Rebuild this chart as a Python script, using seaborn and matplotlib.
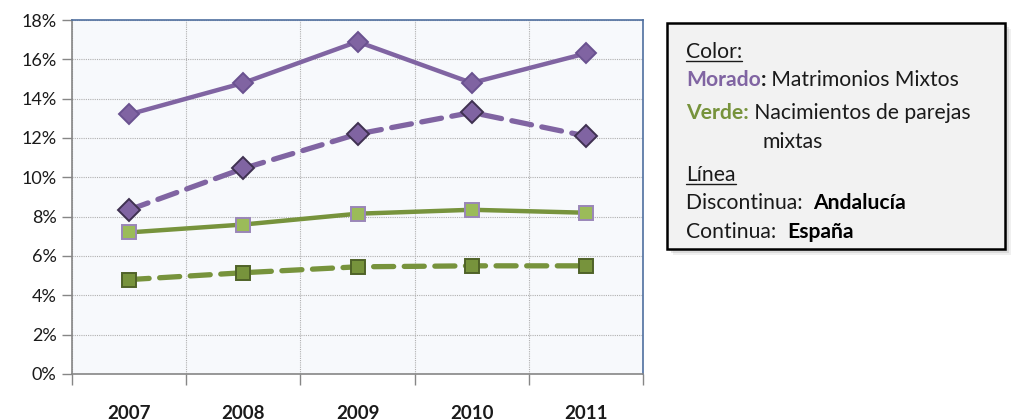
import numpy as np
import pandas as pd
import matplotlib
matplotlib.use("Agg")
import matplotlib.pyplot as plt
import seaborn as sns
from matplotlib.ticker import PercentFormatter, FixedLocator
from matplotlib.patches import Rectangle
from matplotlib.lines import Line2D

years = ["2007", "2008", "2009", "2010", "2011"]
matrimonios_espana = [13.2, 14.8, 16.9, 14.8, 16.3]
matrimonios_andalucia = [8.35, 10.45, 12.2, 13.3, 12.1]
nacimientos_espana = [7.2, 7.6, 8.15, 8.35, 8.2]
nacimientos_andalucia = [4.8, 5.15, 5.45, 5.5, 5.5]
y_ticks = [0, 2, 4, 6, 8, 10, 12, 14, 16, 18]

PURPLE = "#8064A2"
GREEN = "#77933C"
LGREEN = "#9BBB59"
DGREEN_EDGE = "#4F6228"
DPURPLE_EDGE = "#3F3151"

sns.set_theme(style="white")
plt.rcParams["font.family"] = ["Lato", "DejaVu Sans"]

fig = plt.figure(figsize=(10.15, 4.2), dpi=100)
fig.patch.set_facecolor("white")
ax = fig.add_axes([72/1015, 1-374/420, (643-72)/1015, (374-20)/420])
ax.set_facecolor("#F7F9FC")

series = [
    ("Matrimonios España", matrimonios_espana, PURPLE, "-", "D", PURPLE, "#6A5290", 3.2, 10),
    ("Matrimonios Andalucía", matrimonios_andalucia, PURPLE, "--", "D", PURPLE, DPURPLE_EDGE, 3.8, 11),
    ("Nacimientos España", nacimientos_espana, GREEN, "-", "s", LGREEN, "#9A86B8", 3.2, 9.5),
    ("Nacimientos Andalucía", nacimientos_andalucia, GREEN, "--", "s", GREEN, DGREEN_EDGE, 3.8, 10),
]

for name, vals, col, ls, mk, mfc, mec, lw, ms in series:
    df = pd.DataFrame({"year": years, "value": vals})
    sns.lineplot(data=df, x="year", y="value", ax=ax, sort=False, color=col,
                 linewidth=lw, marker=mk, markersize=ms,
                 markerfacecolor=mfc, markeredgecolor=mec, markeredgewidth=1.4)
    line = ax.get_lines()[-1]
    line.set_linestyle(ls)
    if ls == "--":
        line.set_dashes((3.8, 2.0))
        line.set_dash_capstyle("round")

ax.set_xlim(-0.5, 4.5)
ax.set_ylim(0, 18)
ax.yaxis.set_major_locator(FixedLocator(y_ticks))
ax.yaxis.set_major_formatter(PercentFormatter(decimals=0))
ax.xaxis.set_major_locator(FixedLocator([-0.5, 0.5, 1.5, 2.5, 3.5, 4.5]))
ax.xaxis.set_major_formatter(plt.NullFormatter())
ax.xaxis.set_minor_locator(FixedLocator([0, 1, 2, 3, 4]))
ax.set_xticklabels(years, minor=True)
ax.tick_params(axis="x", which="major", length=8, width=1, color="#868686", direction="out", bottom=True)
ax.tick_params(axis="x", which="minor", length=0, pad=22, labelsize=13.5, labelcolor="#1a1a1a")
for t in ax.get_xticklabels(minor=True):
    t.set_fontweight("bold")
ax.tick_params(axis="y", which="major", length=7, width=1, color="#868686", direction="out",
               left=True, labelsize=13, labelcolor="#1a1a1a", pad=4)
ax.set_xlabel("")
ax.set_ylabel("")
ax.grid(True, which="major", axis="both", color="#b0b0b0", linestyle=(0, (1, 1)), linewidth=0.8)
ax.set_axisbelow(True)
for s in ["left", "bottom"]:
    ax.spines[s].set_color("#868686")
    ax.spines[s].set_linewidth(1.2)
for s in ["top", "right"]:
    ax.spines[s].set_color("#4F6FA0")
    ax.spines[s].set_linewidth(1.2)

# ---- explanatory text box ----
W, H = 1015, 420
bx0, by0, bx1, by1 = 667, 23, 1005, 249
for k, a in [(6, 0.15), (4, 0.25), (2, 0.3)]:
    fig.add_artist(Rectangle((bx0/W + k/W, 1 - by1/H - k/H), (bx1-bx0)/W, (by1-by0)/H,
                             transform=fig.transFigure, facecolor="#a0a0a0", edgecolor="none",
                             alpha=a, zorder=1))
box = Rectangle((bx0/W, 1 - by1/H), (bx1-bx0)/W, (by1-by0)/H, transform=fig.transFigure,
                facecolor="#F2F2F2", edgecolor="black", linewidth=1.8, zorder=2)
fig.add_artist(box)

FS = 15.2
fig.canvas.draw()
renderer = fig.canvas.get_renderer()

def runs(x_px, y_px, parts, underline=False):
    x = x_px
    for txt, color, weight in parts:
        t = fig.text(x/W, 1 - y_px/H, txt, color=color, fontweight=weight, fontsize=FS,
                     va="baseline", ha="left", zorder=3)
        bb = t.get_window_extent(renderer=renderer)
        if underline:
            fig.add_artist(Line2D([x/W, (x + bb.width)/W], [1 - (y_px + 3)/H]*2,
                                  transform=fig.transFigure, color="#1a1a1a", linewidth=1.0, zorder=3))
        x += bb.width

tx = 686
runs(tx, 58, [("Color:", "#1a1a1a", "normal")], underline=True)
runs(tx, 86, [("Morado", PURPLE, "bold"), (":", "#1a1a1a", "bold"), (" Matrimonios Mixtos", "#1a1a1a", "normal")])
runs(tx, 119, [("Verde:", GREEN, "bold"), (" Nacimientos de parejas", "#1a1a1a", "normal")])
runs(763, 148, [("mixtas", "#1a1a1a", "normal")])
runs(tx, 181, [("Línea", "#1a1a1a", "normal")], underline=True)
runs(tx, 209, [("Discontinua:  ", "#1a1a1a", "normal"), ("Andalucía", "#000000", "bold")])
runs(tx, 238, [("Continua:  ", "#1a1a1a", "normal"), ("España", "#000000", "bold")])

fig.savefig("out.png", dpi=100)
